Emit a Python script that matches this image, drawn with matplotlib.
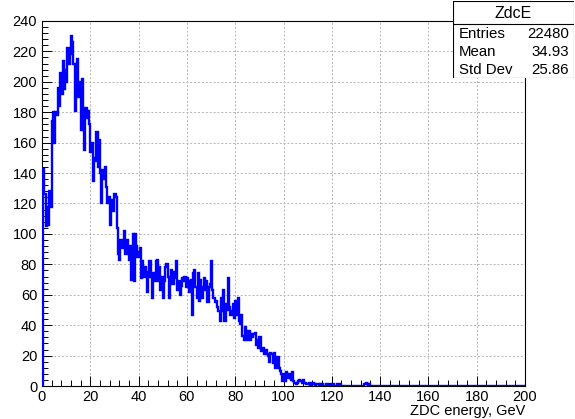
import numpy as np
import matplotlib.pyplot as plt
from matplotlib.ticker import MultipleLocator
from matplotlib.patches import Rectangle

plt.rcParams['font.family'] = ['Liberation Sans', 'DejaVu Sans']

# histogram ZdcE: 400 bins from 0 to 200 GeV (0.5 GeV per bin)
counts = [
    0, 143, 126, 105, 118, 106, 128, 118, 174, 180,
    160, 180, 178, 196, 184, 206, 192, 214, 195, 208,
    200, 222, 212, 218, 230, 226, 212, 181, 200, 215,
    190, 200, 168, 202, 175, 155, 183, 176, 181, 172,
    154, 160, 135, 150, 148, 167, 144, 162, 140, 120,
    142, 136, 144, 131, 120, 124, 106, 122, 118, 115,
    126, 124, 104, 87, 83, 96, 91, 94, 102, 87,
    96, 90, 83, 92, 70, 100, 69, 100, 92, 85,
    88, 91, 71, 82, 72, 78, 75, 62, 72, 82,
    72, 58, 74, 69, 82, 83, 69, 78, 63, 72,
    58, 69, 78, 80, 72, 58, 69, 76, 67, 75,
    71, 82, 63, 69, 60, 66, 71, 69, 72, 65,
    71, 69, 62, 70, 47, 74, 76, 65, 58, 74,
    56, 70, 58, 65, 71, 63, 69, 55, 65, 67,
    82, 63, 58, 55, 56, 52, 49, 43, 58, 49,
    63, 43, 54, 50, 71, 52, 47, 49, 54, 45,
    56, 47, 58, 43, 41, 47, 33, 30, 39, 34,
    30, 36, 30, 34, 32, 34, 35, 27, 30, 25,
    32, 23, 23, 25, 21, 24, 21, 20, 16, 22,
    21, 15, 22, 12, 12, 19, 12, 10, 8, 3,
    8, 3, 9, 5, 8, 5, 4, 9, 3, 2,
    1, 2, 3, 4, 3, 2, 4, 2, 2, 1,
    1, 2, 0, 1, 2, 1, 0, 1, 1, 0,
    1, 0, 1, 0, 0, 1, 0, 0, 1, 0,
    0, 1, 0, 0, 1, 0, 0, 1, 0, 0,
    0, 0, 0, 0, 0, 0, 0, 0, 0, 0,
    0, 0, 0, 0, 0, 0, 0, 1, 2, 1,
    0, 1,
]
n_bins = 400
x_min, x_max = 0, 200

stat_names = ['Entries', 'Mean', 'Std Dev']
stat_values = ['22480', '34.93', '25.86']

edges = np.linspace(x_min, x_max, n_bins + 1)
values = np.zeros(n_bins)
values[:len(counts)] = counts

W, H = 575, 419
fig = plt.figure(figsize=(W / 100, H / 100), dpi=100)
ax = fig.add_axes([42 / W, 1 - 386 / H, (525 - 42) / W, (386 - 21) / H])

ax.stairs(values, edges, color='#0000ff', lw=1.7, baseline=None, zorder=3)

ax.set_xlim(x_min, x_max)
ax.set_ylim(0, 240)
ax.xaxis.set_major_locator(MultipleLocator(20))
ax.xaxis.set_minor_locator(MultipleLocator(4))
ax.yaxis.set_major_locator(MultipleLocator(20))
ax.yaxis.set_minor_locator(MultipleLocator(4))
ax.grid(True, which='major', color='#b4b4b4', lw=0.7, ls=(0, (2, 2)))
ax.tick_params(which='both', direction='in', top=False, right=False,
               labelsize=10.5, colors='black', width=0.7)
ax.tick_params(which='major', length=7)
ax.tick_params(which='minor', length=4)
ax.tick_params(axis='x', pad=3)
ax.tick_params(axis='y', pad=3.5)
for s in ax.spines.values():
    s.set_linewidth(0.8)

ax.set_xlabel('ZDC energy, GeV', loc='right', fontsize=10.5, labelpad=0)

# stats box
sb = fig.add_axes([453 / W, 1 - 78 / H, 121 / W, 77 / H])
sb.set_xlim(0, 121)
sb.set_ylim(77, 0)
sb.axis('off')
sb.add_patch(Rectangle((0, 0), 121, 77, facecolor='white', edgecolor='black', lw=0.8))
sb.plot([0, 121], [23, 23], color='black', lw=0.8)
sb.text(60.5, 12, 'ZdcE', ha='center', va='center', fontsize=11.5)
for i, (name, val) in enumerate(zip(stat_names, stat_values)):
    y = 32.5 + i * 18.5
    sb.text(6, y, name, ha='left', va='center', fontsize=10.8)
    sb.text(116, y, val, ha='right', va='center', fontsize=10.8)

fig.savefig('out.png', dpi=100)
